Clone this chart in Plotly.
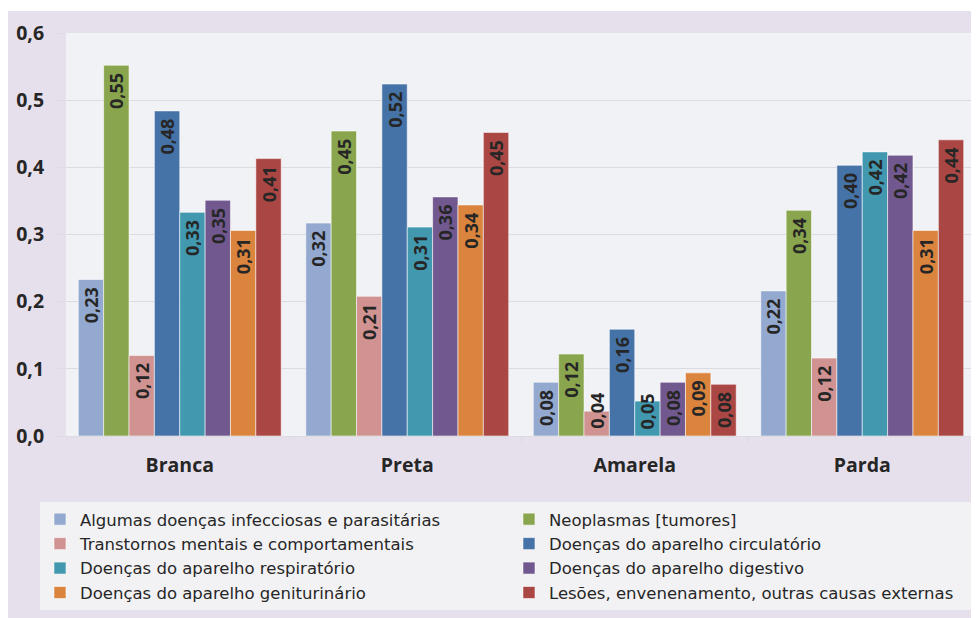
import plotly.graph_objects as go

# ── Data ────────────────────────────────────────────────────────────────────
categories = ["Branca", "Preta", "Amarela", "Parda"]

series_names = [
    "Algumas doenças infecciosas e parasitárias",
    "Neoplasmas [tumores]",
    "Transtornos mentais e comportamentais",
    "Doenças do aparelho circulatório",
    "Doenças do aparelho respiratório",
    "Doenças do aparelho digestivo",
    "Doenças do aparelho geniturinário",
    "Lesões, envenenamento, outras causas externas",
]

infecciosas   = [0.233, 0.317, 0.080, 0.216]
neoplasmas    = [0.552, 0.454, 0.122, 0.336]
transtornos   = [0.120, 0.208, 0.037, 0.116]
circulatorio  = [0.484, 0.524, 0.159, 0.403]
respiratorio  = [0.333, 0.311, 0.052, 0.423]
digestivo     = [0.351, 0.356, 0.080, 0.418]
geniturinario = [0.306, 0.344, 0.094, 0.306]
lesoes        = [0.413, 0.452, 0.077, 0.441]

series_values = [infecciosas, neoplasmas, transtornos, circulatorio,
                 respiratorio, digestivo, geniturinario, lesoes]

# ── Theme ───────────────────────────────────────────────────────────────────
COLORS   = ["#93a9cf", "#89a54e", "#d19392", "#4572a7",
            "#4198af", "#71588f", "#db843d", "#aa4643"]
PAPER    = "#e6e0ec"
PLOT_BG  = "#f1f2f5"
GRID_CLR = "#dcdce0"
TXT_CLR  = "#262626"
FONT     = "Open Sans, sans-serif"
LABEL_FONT = dict(family=FONT, size=18, color=TXT_CLR, weight="bold")

W, H = 971, 610
MARGIN = dict(l=58, r=3, t=25, b=182)
Y_MAX = 0.6
BARGAP = 0.108

plot_w = W - MARGIN["l"] - MARGIN["r"]
plot_h = H - MARGIN["t"] - MARGIN["b"]
px_per_unit = plot_h / Y_MAX
bar_w = plot_w / len(categories) * (1 - BARGAP) / len(series_names)
MIN_LABEL_PX = 48   # shorter bars get their label pushed up from the base


def fmt(v):
    return f"{v:.2f}".replace(".", ",")


fig = go.Figure()
for i, (name, vals, clr) in enumerate(zip(series_names, series_values, COLORS)):
    fits = [v * px_per_unit >= MIN_LABEL_PX for v in vals]
    fig.add_trace(go.Bar(
        name=name, x=categories, y=vals,
        marker=dict(color=clr, line=dict(color="rgba(255,255,255,0.55)", width=1)),
        # trailing nbsp keeps the label a little below the bar top
        text=[fmt(v) + "\u00a0" if ok else "" for v, ok in zip(vals, fits)],
        textposition="inside", insidetextanchor="end",
        textangle=-90, constraintext="none",
        textfont=LABEL_FONT,
    ))
    # short bars: label sits on the base and sticks out above the bar
    for cat, v, ok in zip(categories, vals, fits):
        if not ok:
            fig.add_annotation(
                x=cat, y=0, xref="x", yref="y",
                xshift=(i - (len(series_names) - 1) / 2) * bar_w,
                yanchor="bottom", yshift=5, textangle=-90,
                text=fmt(v), showarrow=False, font=LABEL_FONT,
            )

# thin white strip above the lavender chart area
fig.add_shape(type="rect", xref="paper", yref="paper",
              x0=-0.1, x1=1.1, y0=(plot_h + MARGIN["t"] - 3) / plot_h, y1=1.2,
              fillcolor="white", line_width=0, layer="below")

fig.update_layout(
    width=W, height=H,
    barmode="group", bargap=BARGAP, bargroupgap=0,
    separators=",.",
    paper_bgcolor=PAPER, plot_bgcolor=PLOT_BG,
    font=dict(family=FONT, color=TXT_CLR),
    margin=MARGIN,
    showlegend=True,
    legend=dict(
        orientation="h", x=-0.0286, xanchor="left", y=-0.1636, yanchor="top",
        bgcolor="#f2f2f4", entrywidth=424, entrywidthmode="pixels",
        font=dict(family="DejaVu Sans, sans-serif", size=16.5, color=TXT_CLR),
        traceorder="normal",
    ),
)
fig.update_yaxes(
    range=[0, Y_MAX], dtick=0.1, tickformat=".1f",
    gridcolor=GRID_CLR, zeroline=False,
    ticks="outside", ticklen=8, tickcolor=GRID_CLR, ticklabelstandoff=9,
    tickfont=dict(family=FONT, size=19.5, color=TXT_CLR, weight="bold"),
    showline=False,
)
fig.update_xaxes(
    tickson="boundaries", ticks="outside", ticklen=6, tickcolor=GRID_CLR,
    showline=True, linecolor=GRID_CLR, linewidth=1, ticklabelstandoff=12,
    tickfont=dict(family=FONT, size=19.5, color=TXT_CLR, weight="bold"),
)

fig.write_html("out.html")
